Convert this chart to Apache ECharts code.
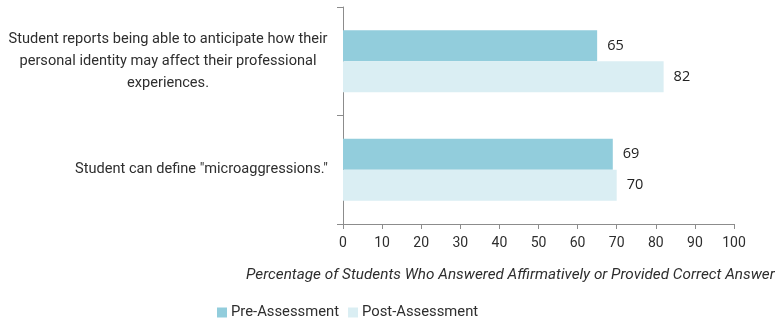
<!DOCTYPE html>
<html>
<head>
<meta charset="utf-8">
<script src="https://cdn.jsdelivr.net/npm/echarts@6/dist/echarts.min.js"></script>
<style>
  html, body { margin: 0; padding: 0; background: #fff; }
  #chart { width: 775px; height: 322px; }
</style>
</head>
<body>
<div id="chart"></div>
<script>
// Survey items, top to bottom
const categories = [
  'Student reports being able to anticipate how their\npersonal identity may affect their professional\nexperiences.',
  'Student can define "microaggressions."'
];
const seriesNames = ['Pre-Assessment', 'Post-Assessment'];
const preValues = [65, 69];
const postValues = [82, 70];
const xTicks = [0, 10, 20, 30, 40, 50, 60, 70, 80, 90, 100];
const axisTitle = 'Percentage of Students Who Answered Affirmatively or Provided Correct Answer';

const PRE_COLOR = '#92CDDC';
const POST_COLOR = '#DAEEF3';
const AXIS_COLOR = '#8c8c8c';
const TEXT_COLOR = '#2e2e2e';

const chart = echarts.init(document.getElementById('chart'), null, { renderer: 'canvas' });

const valueLabel = {
  show: true,
  position: 'right',
  distance: 10,
  color: '#222222',
  fontFamily: 'Open Sans',
  fontSize: 14.5
};

chart.setOption({
  animation: false,
  backgroundColor: '#ffffff',
  textStyle: { fontFamily: 'Roboto' },
  title: {
    text: axisTitle,
    left: 241,
    top: 263,
    textStyle: {
      fontFamily: 'Roboto',
      fontStyle: 'italic',
      fontWeight: 'normal',
      fontSize: 15.3,
      color: TEXT_COLOR
    }
  },
  legend: {
    data: seriesNames,
    left: 212,
    top: 300,
    itemWidth: 10,
    itemHeight: 10,
    itemGap: 9,
    icon: 'rect',
    textStyle: { fontFamily: 'Roboto', fontSize: 14.8, color: TEXT_COLOR, padding: [0, 0, 0, -1] }
  },
  grid: { left: 343, right: 41, top: 7, bottom: 98, containLabel: false },
  xAxis: {
    type: 'value',
    min: xTicks[0],
    max: xTicks[xTicks.length - 1],
    interval: xTicks[1] - xTicks[0],
    axisLine: { show: true, lineStyle: { color: AXIS_COLOR, width: 1 } },
    axisTick: { show: true, length: 5, lineStyle: { color: AXIS_COLOR } },
    splitLine: { show: false },
    axisLabel: { fontFamily: 'Roboto', fontSize: 14, color: TEXT_COLOR, margin: 12 }
  },
  yAxis: {
    type: 'category',
    inverse: true,
    data: categories,
    axisLine: { show: true, lineStyle: { color: AXIS_COLOR, width: 1 } },
    axisTick: { show: true, length: 6, lineStyle: { color: AXIS_COLOR } },
    axisLabel: {
      margin: 15,
      align: 'right',
      formatter: function (value, index) {
        return index === 0 ? '{c|' + value + '}' : '{s|' + value + '}';
      },
      rich: {
        c: { width: 320, align: 'center', fontFamily: 'Roboto', fontSize: 14.6, lineHeight: 22, color: TEXT_COLOR },
        s: { fontFamily: 'Roboto', fontSize: 14.6, lineHeight: 22, color: TEXT_COLOR }
      }
    }
  },
  series: [
    {
      name: seriesNames[0],
      type: 'bar',
      data: preValues,
      barGap: '0%',
      barCategoryGap: '43%',
      itemStyle: { color: PRE_COLOR },
      label: valueLabel
    },
    {
      name: seriesNames[1],
      type: 'bar',
      data: postValues,
      barGap: '0%',
      barCategoryGap: '43%',
      itemStyle: { color: POST_COLOR },
      label: valueLabel
    }
  ]
});
</script>
</body>
</html>
